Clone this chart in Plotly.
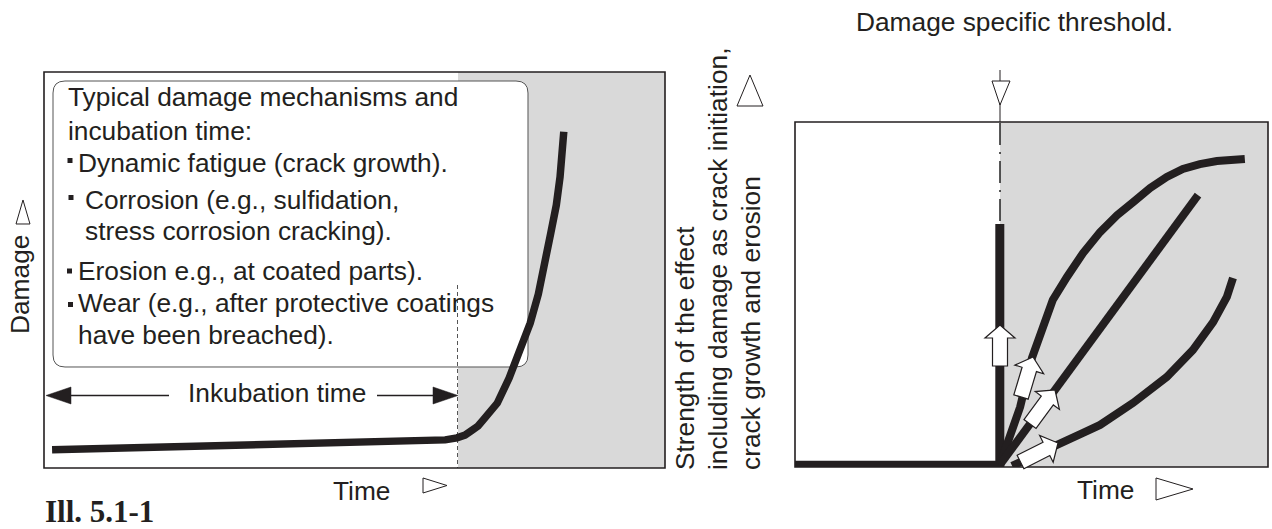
import math
import plotly.graph_objects as go

W, H = 1272, 529

# ---------------- data ----------------
# Left panel: damage vs time (incubation, then rapid growth)
damage_time = [1.3, 33.2, 60.6, 64.6, 66.5, 67.8, 68.9, 69.9, 70.7, 71.8, 73.0,
               74.9, 76.8, 78.3, 79.6, 80.7, 81.6, 82.5, 83.1, 83.7]
damage_value = [4.6, 5.8, 6.6, 7.1, 7.6, 8.3, 9.5, 10.6, 12.1, 14.1, 16.4,
                22.7, 29.8, 36.6, 43.9, 51.5, 59.3, 66.4, 73.5, 84.9]

# Right panel: strength of the effect vs time after threshold
sudden_time = [0, 43.3, 43.3]
sudden_value = [0.5, 0.5, 70.4]

fast_time = [43.3, 47.6, 50.1, 52.4, 54.5, 57.5, 60.9, 64.5, 68.1, 71.5, 75.1,
             78.6, 82.0, 85.6, 89.2, 95.1]
fast_value = [0.6, 17.4, 31.6, 40.6, 48.4, 55.1, 62.0, 68.1, 73.0, 76.8, 80.9,
              84.1, 86.4, 87.8, 88.7, 89.3]

linear_time = [43.3, 85.2]
linear_value = [0.6, 78.8]

slow_time = [45.9, 50.3, 55.4, 60.9, 64.5, 71.5, 78.6, 84.1, 88.4, 91.3, 92.6]
slow_value = [0.3, 2.9, 6.4, 9.9, 12.2, 18.6, 26.1, 33.9, 42.0, 49.3, 54.8]

box_lines = [
    "Typical damage mechanisms and",
    "incubation time:",
    "Dynamic fatigue (crack growth).",
    "Corrosion (e.g., sulfidation,",
    "stress corrosion cracking).",
    "Erosion e.g., at coated parts).",
    "Wear (e.g., after protective coatings",
    "have been breached).",
]
right_label_lines = [
    "Strength of the effect",
    "including damage as crack initiation,",
    "crack growth and erosion",
]

# ---------------- helpers ----------------
INK = "#231f20"
GRAY = "#d9d9d9"
FONT = "Liberation Sans, Arial, Helvetica, sans-serif"
FS = 26.3


def px(x):
    return x / W


def py(y):
    return 1 - y / H


def path_from(points, close=True):
    s = "M " + " L ".join(f"{px(x):.5f},{py(y):.5f}" for x, y in points)
    return s + (" Z" if close else "")


def rrect_path(x0, y0, x1, y1, r):
    def p(x, y):
        return f"{px(x):.5f},{py(y):.5f}"
    return (f"M {p(x0 + r, y0)} L {p(x1 - r, y0)} Q {p(x1, y0)} {p(x1, y0 + r)} "
            f"L {p(x1, y1 - r)} Q {p(x1, y1)} {p(x1 - r, y1)} "
            f"L {p(x0 + r, y1)} Q {p(x0, y1)} {p(x0, y1 - r)} "
            f"L {p(x0, y0 + r)} Q {p(x0, y0)} {p(x0 + r, y0)} Z")


def block_arrow(tip, tail, shaft_w=15, head_w=30, head_len=13):
    tx, ty = tip
    bx, by = tail
    L = math.hypot(tx - bx, ty - by)
    ux, uy = (tx - bx) / L, (ty - by) / L
    nx, ny = -uy, ux
    hx, hy = tx - ux * head_len, ty - uy * head_len
    pts = [
        (bx + nx * shaft_w / 2, by + ny * shaft_w / 2),
        (hx + nx * shaft_w / 2, hy + ny * shaft_w / 2),
        (hx + nx * head_w / 2, hy + ny * head_w / 2),
        (tx, ty),
        (hx - nx * head_w / 2, hy - ny * head_w / 2),
        (hx - nx * shaft_w / 2, hy - ny * shaft_w / 2),
        (bx - nx * shaft_w / 2, by - ny * shaft_w / 2),
    ]
    return path_from(pts)


def line_shape(x0, y0, x1, y1, width=1.5, color=INK, dash="solid", layer="below"):
    return dict(type="line", xref="paper", yref="paper",
                x0=px(x0), y0=py(y0), x1=px(x1), y1=py(y1),
                line=dict(color=color, width=width, dash=dash), layer=layer)


def poly_shape(points, fill="white", lw=1, color=INK, layer="above"):
    return dict(type="path", xref="paper", yref="paper", path=path_from(points),
                fillcolor=fill, line=dict(color=color, width=lw), layer=layer)


def rect_shape(x0, y0, x1, y1, fill=None, lw=1.5, color=INK, layer="below"):
    d = dict(type="rect", xref="paper", yref="paper",
             x0=px(x0), y0=py(y0), x1=px(x1), y1=py(y1), layer=layer,
             line=dict(color=color, width=lw))
    if fill:
        d["fillcolor"] = fill
    return d


def text(t, x, y, xanchor="left", yanchor="middle", size=FS, angle=0,
         family=FONT, color=INK):
    return dict(text=t, x=px(x), y=py(y), xref="paper", yref="paper",
                xanchor=xanchor, yanchor=yanchor, showarrow=False,
                textangle=angle, borderpad=0,
                font=dict(family=family, size=size, color=color))


# ---------------- figure ----------------
fig = go.Figure()

line_kw = dict(mode="lines", hoverinfo="skip", cliponaxis=False, showlegend=False)
fig.add_trace(go.Scatter(x=damage_time, y=damage_value, xaxis="x", yaxis="y",
                         line=dict(color=INK, width=7.5), **line_kw))
fig.add_trace(go.Scatter(x=sudden_time, y=sudden_value, xaxis="x2", yaxis="y2",
                         line=dict(color=INK, width=9), **line_kw))
fig.add_trace(go.Scatter(x=fast_time, y=fast_value, xaxis="x2", yaxis="y2",
                         line=dict(color=INK, width=8), **line_kw))
fig.add_trace(go.Scatter(x=linear_time, y=linear_value, xaxis="x2", yaxis="y2",
                         line=dict(color=INK, width=8), **line_kw))
fig.add_trace(go.Scatter(x=slow_time, y=slow_value, xaxis="x2", yaxis="y2",
                         line=dict(color=INK, width=8), **line_kw))

# panel geometry (pixels)
LX0, LX1, LY0, LY1 = 44, 665, 72, 468
RX0, RX1, RY0, RY1 = 795, 1268, 122, 467
L_SPLIT, R_SPLIT = 458, 1000

shapes = []
# left panel
shapes.append(rect_shape(L_SPLIT, LY0, LX1, LY1, fill=GRAY, lw=0))
shapes.append(dict(type="path", xref="paper", yref="paper",
                   path=rrect_path(53, 81, 528, 367, 12), fillcolor="white",
                   line=dict(color="#555555", width=1), layer="below"))
shapes.append(line_shape(457.5, 285, 457.5, LY1, width=1, color="#555555",
                         dash="4px,3px"))
shapes.append(rect_shape(LX0, LY0, LX1, LY1, lw=1.6))
# bullets
for bx, by in [(70, 160.5), (71, 197.5), (69.5, 271), (70.5, 304.5)]:
    shapes.append(rect_shape(bx - 2.5, by - 2.5, bx + 2.5, by + 2.5, fill=INK,
                             lw=0, layer="above"))
# incubation arrow
shapes.append(line_shape(68, 395.5, 169, 395.5, width=1.5, layer="above"))
shapes.append(line_shape(377, 395.5, 435, 395.5, width=1.5, layer="above"))
shapes.append(poly_shape([(46, 395.5), (71, 387), (71, 404)], fill=INK, lw=0.5))
shapes.append(poly_shape([(458, 395.5), (433, 387), (433, 404)], fill=INK, lw=0.5))

# right panel
shapes.append(rect_shape(R_SPLIT, RY0, RX1, RY1, fill=GRAY, lw=0))
shapes.append(rect_shape(RX0, RY0, RX1, RY1, lw=1.6))
shapes.append(line_shape(R_SPLIT, RY0 + 1, R_SPLIT, 224, width=1.5, color="#222222",
                         dash="22px,7px,2px,7px", layer="above"))
# threshold marker
shapes.append(line_shape(R_SPLIT, 70, R_SPLIT, RY0, width=1, layer="above"))
shapes.append(poly_shape([(992, 81), (1010, 81), (1000, 105)], fill="white", lw=1))
# white block arrows
for tip, tail in [((1000, 325), (1000, 366)),
                  ((1033, 357), (1021, 397)),
                  ((1055, 390), (1030, 424)),
                  ((1058, 443), (1020.5, 462))]:
    shapes.append(dict(type="path", xref="paper", yref="paper",
                       path=block_arrow(tip, tail), fillcolor="white",
                       line=dict(color=INK, width=1.2), layer="above"))

# axis direction triangles
shapes.append(poly_shape([(23, 200), (16, 224), (30, 224)], fill="white", lw=1))
shapes.append(poly_shape([(423, 478), (423, 493), (447, 485.5)], fill="white", lw=1))
shapes.append(poly_shape([(1156, 478), (1156, 500), (1193, 489)], fill="white", lw=1))
shapes.append(poly_shape([(750, 75), (737, 106), (763, 106)], fill="white", lw=1))

annotations = []
ys = [97.5, 131, 163, 200, 231, 271, 303, 335]
xs = [67, 67, 77, 84, 84, 77, 77, 77]
for t, x, y in zip(box_lines, xs, ys):
    annotations.append(text(t, x, y))
annotations.append(text("Inkubation time", 277, 393, xanchor="center"))
annotations.append(text("Damage", 20, 285, xanchor="center", angle=-90))
annotations.append(text("Time", 361, 491, xanchor="center"))
annotations.append(text("Time", 1105, 490, xanchor="center"))
annotations.append(text("Damage specific threshold.", 1014, 22, xanchor="center"))
for t, x in zip(right_label_lines, [685, 718, 751]):
    annotations.append(text(t, x, 471, xanchor="center", yanchor="bottom", angle=-90))
annotations.append(text("<b>Ill. 5.1-1</b>", 44, 511, size=31,
                        family="Liberation Serif, Times New Roman, serif"))

ax_common = dict(visible=False, fixedrange=True, range=[0, 100])
fig.update_layout(
    width=W, height=H,
    margin=dict(l=0, r=0, t=0, b=0, pad=0),
    paper_bgcolor="white", plot_bgcolor="rgba(0,0,0,0)",
    showlegend=False,
    xaxis=dict(domain=[px(LX0), px(LX1)], anchor="y", **ax_common),
    yaxis=dict(domain=[py(LY1), py(LY0)], anchor="x", **ax_common),
    xaxis2=dict(domain=[px(RX0), px(RX1)], anchor="y2", **ax_common),
    yaxis2=dict(domain=[py(RY1), py(RY0)], anchor="x2", **ax_common),
    shapes=shapes,
    annotations=annotations,
)

fig.write_html("out.html", config={"displayModeBar": False},
               post_script="document.body.style.margin='0';document.body.style.overflow='hidden';")
